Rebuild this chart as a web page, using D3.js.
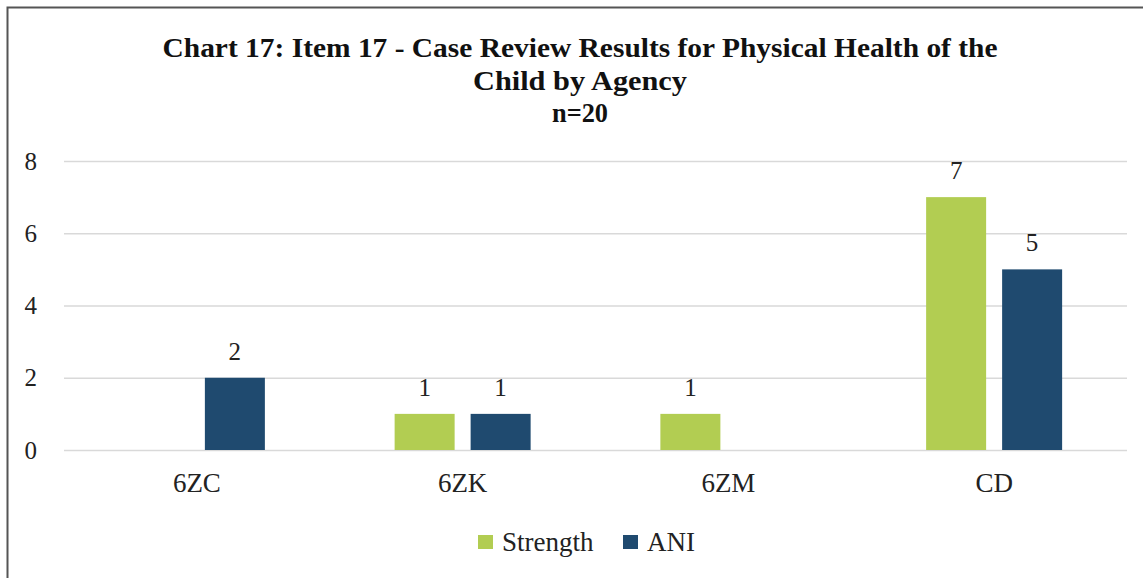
<!DOCTYPE html>
<html>
<head>
<meta charset="utf-8">
<script src="https://cdn.jsdelivr.net/npm/d3@7"></script>
<style>
  body { margin: 0; background: #fff; }
  svg { display: block; font-family: "Liberation Serif", "Times New Roman", serif; }
</style>
</head>
<body>
<svg id="chart" width="1143" height="578"></svg>
<script>
// chart data
const categories = ["6ZC", "6ZK", "6ZM", "CD"];
const seriesNames = ["Strength", "ANI"];
const strengthVals = [0, 1, 1, 7];
const aniVals = [2, 1, 0, 5];
const yTicks = [0, 2, 4, 6, 8];
const titleLines = ["Chart 17: Item 17 - Case Review Results for Physical Health of the", "Child by Agency", "n=20"];

const colors = { Strength: "#B2CD52", ANI: "#1F4A6F" };
const serif = "Liberation Serif, Times New Roman, serif";

let svg = d3.select("#chart");
let m = { top: 161, right: 16, bottom: 128, left: 64 };
let width = +svg.attr("width") - m.left - m.right;
let height = +svg.attr("height") - m.top - m.bottom;

// frame (only top and left edges show in the picture)
svg.append("path")
    .attr("d", "M7.5,578 V7.5 H1143")
    .attr("fill", "none")
    .attr("stroke", "#555")
    .attr("stroke-width", 2);

// title
let titleLens = [835, 214, 56];
let titleY = [57, 90, 122];
svg.selectAll(".title")
    .data(titleLines)
    .join("text")
    .attr("class", "title")
    .attr("x", 580)
    .attr("y", (d, i) => titleY[i])
    .attr("text-anchor", "middle")
    .attr("font-family", serif)
    .attr("font-weight", "bold")
    .attr("font-size", 27)
    .attr("textLength", (d, i) => titleLens[i])
    .attr("lengthAdjust", "spacingAndGlyphs")
    .attr("fill", "#111")
    .text(d => d);

let g = svg.append("g").attr("transform", `translate(${m.left},${m.top})`);

let x0 = d3.scaleBand().domain(categories).range([0, width]);
let x1 = d3.scaleBand().domain(seriesNames).range([0, 136]).paddingInner(0.2105);
let y = d3.scaleLinear().domain([0, 8]).range([height, 0]);

// gridlines
g.append("g")
    .call(d3.axisLeft(y).tickValues(yTicks).tickSize(-width).tickFormat(""))
    .call(a => a.select(".domain").remove())
    .call(a => a.selectAll("line").attr("stroke", "#D9D9D9").attr("stroke-width", 1.5));

// y labels
g.append("g")
    .call(d3.axisLeft(y).tickValues(yTicks).tickSize(0).tickPadding(27))
    .call(a => a.select(".domain").remove())
    .call(a => a.selectAll("text")
        .attr("font-family", serif)
        .attr("font-size", 25)
        .attr("fill", "#222"));

// x labels
g.append("g")
    .attr("transform", `translate(0,${height})`)
    .call(d3.axisBottom(x0).tickSize(0).tickPadding(23))
    .call(a => a.select(".domain").remove())
    .call(a => a.selectAll("text")
        .attr("font-family", serif)
        .attr("font-size", 27)
        .attr("fill", "#222"));

let rows = categories.map((c, i) => ({
    cat: c,
    vals: [
        { key: "Strength", v: strengthVals[i] },
        { key: "ANI", v: aniVals[i] }
    ]
}));

let groups = g.selectAll(".cat")
    .data(rows)
    .join("g")
    .attr("class", "cat")
    .attr("transform", d => `translate(${x0(d.cat) + x0.bandwidth() / 2 - 68},0)`);

let bars = groups.selectAll(".bar")
    .data(d => d.vals.filter(v => v.v > 0))
    .join("g")
    .attr("class", "bar");

bars.append("rect")
    .attr("x", d => x1(d.key))
    .attr("y", d => y(d.v))
    .attr("width", x1.bandwidth())
    .attr("height", d => height - y(d.v))
    .attr("fill", d => colors[d.key]);

bars.append("text")
    .attr("x", d => x1(d.key) + x1.bandwidth() / 2)
    .attr("y", d => y(d.v) - 18)
    .attr("text-anchor", "middle")
    .attr("font-family", serif)
    .attr("font-size", 25)
    .attr("fill", "#222")
    .text(d => d.v);

// legend
let legendX = [478, 623];
let legend = svg.selectAll(".legend")
    .data(seriesNames)
    .join("g")
    .attr("class", "legend")
    .attr("transform", (d, i) => `translate(${legendX[i]},535)`);

legend.append("rect")
    .attr("width", 15)
    .attr("height", 14)
    .attr("fill", d => colors[d]);

legend.append("text")
    .attr("x", 24)
    .attr("y", 16)
    .attr("font-family", serif)
    .attr("font-size", 27)
    .attr("fill", "#222")
    .text(d => d);
</script>
</body>
</html>
